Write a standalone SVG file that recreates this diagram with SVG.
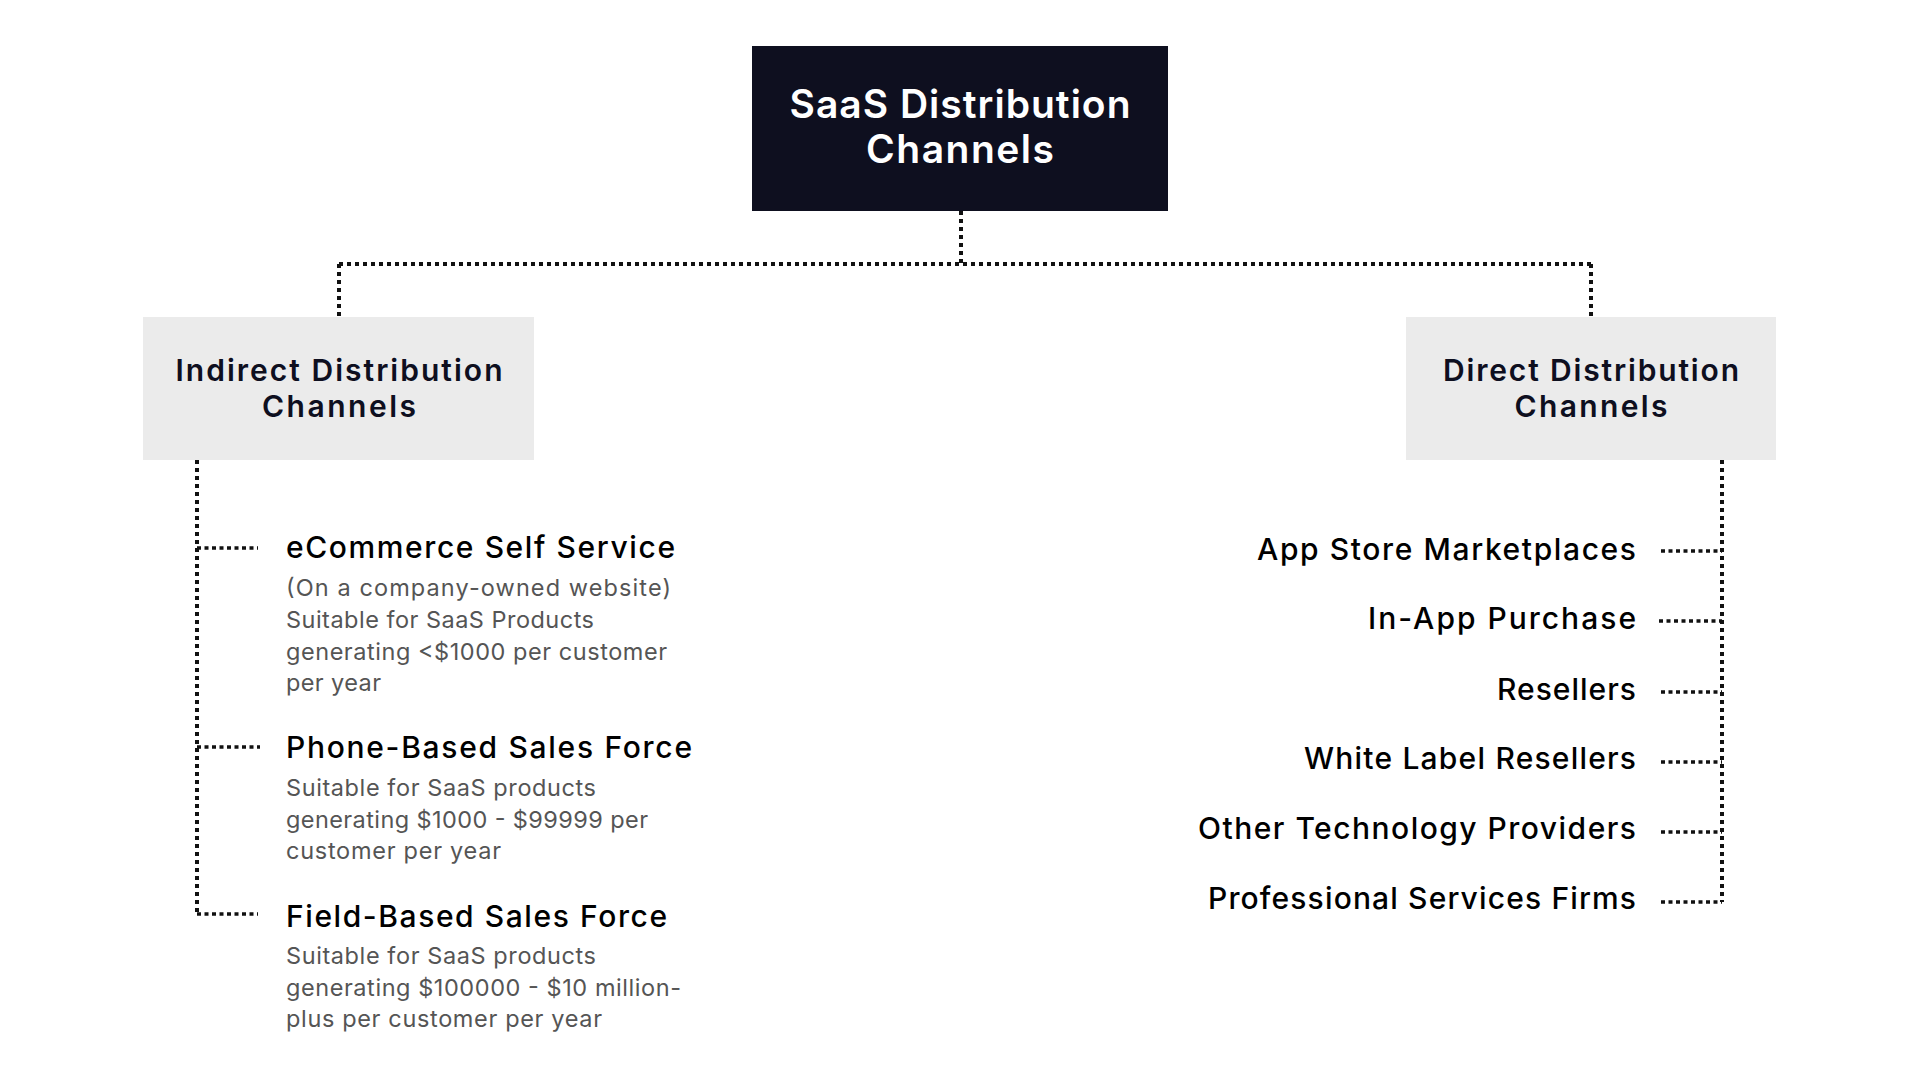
<svg xmlns="http://www.w3.org/2000/svg" width="1920" height="1080" viewBox="0 0 1920 1080">
<style>
.dot{fill:none;stroke:#111;stroke-width:4;stroke-dasharray:4 4}
.stub{fill:none;stroke:#111;stroke-width:3.5;stroke-dasharray:4 3.5}
.root{font-family:Inter,"Liberation Sans",sans-serif;font-weight:600;font-size:39px;fill:#ffffff;text-anchor:middle}
.hdr{font-family:Inter,"Liberation Sans",sans-serif;font-weight:600;font-size:30px;fill:#0e0f1f;text-anchor:middle}
.item{font-family:Inter,"Liberation Sans",sans-serif;font-weight:500;font-size:30px;fill:#000}
.itemR{font-family:Inter,"Liberation Sans",sans-serif;font-weight:500;font-size:30px;fill:#000;text-anchor:end}
.desc{font-family:Inter,"Liberation Sans",sans-serif;font-weight:400;font-size:23.5px;fill:#555}
</style>
<rect width="1920" height="1080" fill="#ffffff"/>
<g id="connectors">
<path class="dot" d="M961 211 V264"/>
<path class="dot" d="M339 264 H1591"/>
<path class="dot" d="M339 264 V317"/>
<path class="dot" d="M1591 264 V317"/>
<path class="dot" d="M197 460 V914"/>
<path class="stub" d="M197 548 H258"/>
<path class="stub" d="M197 747 H260"/>
<path class="stub" d="M197 914 H258"/>
<path class="dot" d="M1722 460 V902"/>
<path class="stub" d="M1661 551 H1722"/>
<path class="stub" d="M1659 621 H1722"/>
<path class="stub" d="M1661 692 H1722"/>
<path class="stub" d="M1661 762 H1722"/>
<path class="stub" d="M1661 832 H1722"/>
<path class="stub" d="M1661 902 H1722"/>
</g>
<g id="root">
<rect x="752" y="46" width="416" height="165" fill="#0e0f1f"/>
<text class="root" x="960" y="118" textLength="341">SaaS Distribution</text>
<text class="root" x="960" y="163" textLength="188">Channels</text>
</g>
<g id="indirect">
<rect x="143" y="317" width="391" height="143" fill="#ebebeb"/>
<text class="hdr" x="339" y="381" textLength="327">Indirect Distribution</text>
<text class="hdr" x="339" y="417" textLength="154">Channels</text>
</g>
<g id="direct">
<rect x="1406" y="317" width="370" height="143" fill="#ebebeb"/>
<text class="hdr" x="1591" y="381" textLength="296">Direct Distribution</text>
<text class="hdr" x="1591" y="417" textLength="153">Channels</text>
</g>
<g id="ecommerce">
<text class="item" x="286" y="558" textLength="389">eCommerce Self Service</text>
<text class="desc" x="286" y="596" textLength="385">(On a company-owned website)</text>
<text class="desc" x="286" y="628" textLength="308">Suitable for SaaS Products</text>
<text class="desc" x="286" y="660" textLength="381">generating &lt;$1000 per customer</text>
<text class="desc" x="286" y="691" textLength="95">per year</text>
</g>
<g id="phone">
<text class="item" x="286" y="758" textLength="406">Phone-Based Sales Force</text>
<text class="desc" x="286" y="796" textLength="310">Suitable for SaaS products</text>
<text class="desc" x="286" y="828" textLength="362">generating $1000 - $99999 per</text>
<text class="desc" x="286" y="859" textLength="215">customer per year</text>
</g>
<g id="field">
<text class="item" x="286" y="927" textLength="381">Field-Based Sales Force</text>
<text class="desc" x="286" y="964" textLength="310">Suitable for SaaS products</text>
<text class="desc" x="286" y="996" textLength="395">generating $100000 - $10 million-</text>
<text class="desc" x="286" y="1027" textLength="316">plus per customer per year</text>
</g>
<g id="appstore"><text class="itemR" x="1636" y="560" textLength="379">App Store Marketplaces</text></g>
<g id="inapp"><text class="itemR" x="1636" y="629" textLength="268">In-App Purchase</text></g>
<g id="resellers"><text class="itemR" x="1636" y="700" textLength="139">Resellers</text></g>
<g id="whitelabel"><text class="itemR" x="1636" y="769" textLength="332">White Label Resellers</text></g>
<g id="othertech"><text class="itemR" x="1636" y="839" textLength="438">Other Technology Providers</text></g>
<g id="professional"><text class="itemR" x="1636" y="909" textLength="428">Professional Services Firms</text></g>
</svg>
